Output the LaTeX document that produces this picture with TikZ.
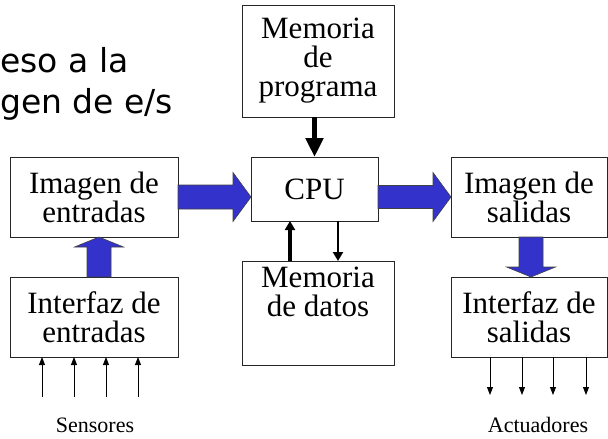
\documentclass[tikz,border=0pt]{standalone}
\usepackage{fontspec}
\setmainfont{Liberation Serif}
\newfontfamily\titlefont{DejaVu Sans}
\usepackage{tikz}
\usetikzlibrary{positioning,calc,arrows.meta}
\definecolor{arrowblue}{RGB}{51,51,204}
\tikzset{box/.style={draw=black!85,line width=0.9pt,align=center,inner sep=0pt,outer sep=0pt,font=\fontsize{31}{29}\selectfont}}
\tikzset{bigarrow/.style={fill=arrowblue,draw=black!75,line width=0.6pt,line join=miter}}
\tikzstyle{busarrow}=[line width=0.9pt,-{Triangle[width=6pt,length=8pt]}]
\tikzstyle{titletext}=[font=\titlefont\fontsize{33}{33}\selectfont,anchor=base west,inner sep=0pt]

\begin{document}
\begin{tikzpicture}[x=1pt,y=-1pt,node distance=40pt and 73pt]
    \useasboundingbox (0,0) rectangle (608,439);
    \node [titletext] (title1) at (0,72) {eso a la};
    \node [titletext] (title2) at (0,113) {gen de e/s};

    \node [box,minimum width=127pt,minimum height=64pt] (cpu) at (314.5,189) {CPU};
    \node [box,minimum width=152pt,minimum height=112pt,above=of cpu,xshift=3.5pt] (prog) {Memoria\\de\\programa};
    \node [box,minimum width=152pt,minimum height=104pt,below=of cpu,xshift=3.5pt] (datos) {};
    \node [font=\fontsize{31}{29}\selectfont,align=center,anchor=north,inner sep=0pt] (datostxt) at ([yshift=-6pt]datos.north) {Memoria\\de datos};
    \node [box,minimum width=168pt,minimum height=80pt,left=of cpu.north west,anchor=north east] (imgE) {Imagen de\\entradas};
    \node [box,minimum width=156pt,minimum height=80pt,right=of cpu.north east,anchor=north west] (imgS) {Imagen de\\salidas};
    \node [box,minimum width=168pt,minimum height=80pt,below=of imgE] (intE) {Interfaz de\\entradas};
    \node [box,minimum width=156pt,minimum height=80pt,below=of imgS] (intS) {Interfaz de\\salidas};
    \node [font=\fontsize{22}{22}\selectfont] (sens) at (95,425) {Sensores};
    \node [font=\fontsize{22}{22}\selectfont] (act) at (538,425) {Actuadores};

    % flechas gruesas (buses de imagen)
    \coordinate (t1) at (imgE.east -| cpu.west);
    \draw [bigarrow] ($(imgE.east)+(0,-12)$) -- ($(t1)+(-18,-12)$) -- ($(t1)+(-18,-24.5)$) -- (t1)
        -- ($(t1)+(-18,24.5)$) -- ($(t1)+(-18,12)$) -- ($(imgE.east)+(0,12)$) -- cycle;
    \coordinate (s2) at (cpu.east |- imgS.west);
    \draw [bigarrow] ($(s2)+(0,-11.5)$) -- ($(imgS.west)+(-18,-11.5)$) -- ($(imgS.west)+(-18,-24.5)$) -- (imgS.west)
        -- ($(imgS.west)+(-18,24.5)$) -- ($(imgS.west)+(-18,11.5)$) -- ($(s2)+(0,11.5)$) -- cycle;
    \coordinate (s3) at ([xshift=5pt]intE.north);
    \coordinate (t3) at ([xshift=5pt]imgE.south);
    \draw [bigarrow] ($(s3)+(-12,0)$) -- ($(t3)+(-12,10)$) -- ($(t3)+(-24.5,10)$) -- (t3)
        -- ($(t3)+(24.5,10)$) -- ($(t3)+(12,10)$) -- ($(s3)+(12,0)$) -- cycle;
    \coordinate (s4) at ([xshift=2pt]imgS.south);
    \coordinate (t4) at ([xshift=2pt]intS.north);
    \draw [bigarrow] ($(s4)+(-12,0)$) -- ($(t4)+(-12,-10)$) -- ($(t4)+(-24.5,-10)$) -- (t4)
        -- ($(t4)+(24.5,-10)$) -- ($(t4)+(12,-10)$) -- ($(s4)+(12,0)$) -- cycle;

    % programa -> CPU, CPU <-> datos
    \draw [line width=5pt,-{Triangle[width=17pt,length=19pt]}] (prog.south -| cpu.north) -- (cpu.north);
    \draw [line width=3.5pt,-{Triangle[width=10pt,length=9pt]}] (datos.north -| 290,0) -- (cpu.south -| 290,0);
    \draw [line width=2.5pt,-{Triangle[width=10pt,length=9pt]}] (cpu.south -| 338,0) -- (datos.north -| 338,0);

    % sensores y actuadores
    \foreach \x [count=\i] in {42,74,106,138} {
        \coordinate (sen\i) at (\x,397);
        \draw [busarrow] (sen\i) -- (sen\i |- intE.south);
    }
    \foreach \x [count=\i] in {490,522,553,586} {
        \coordinate (act\i) at (\x,395);
        \draw [busarrow] (act\i |- intS.south) -- (act\i);
    }
\end{tikzpicture}
\end{document}
